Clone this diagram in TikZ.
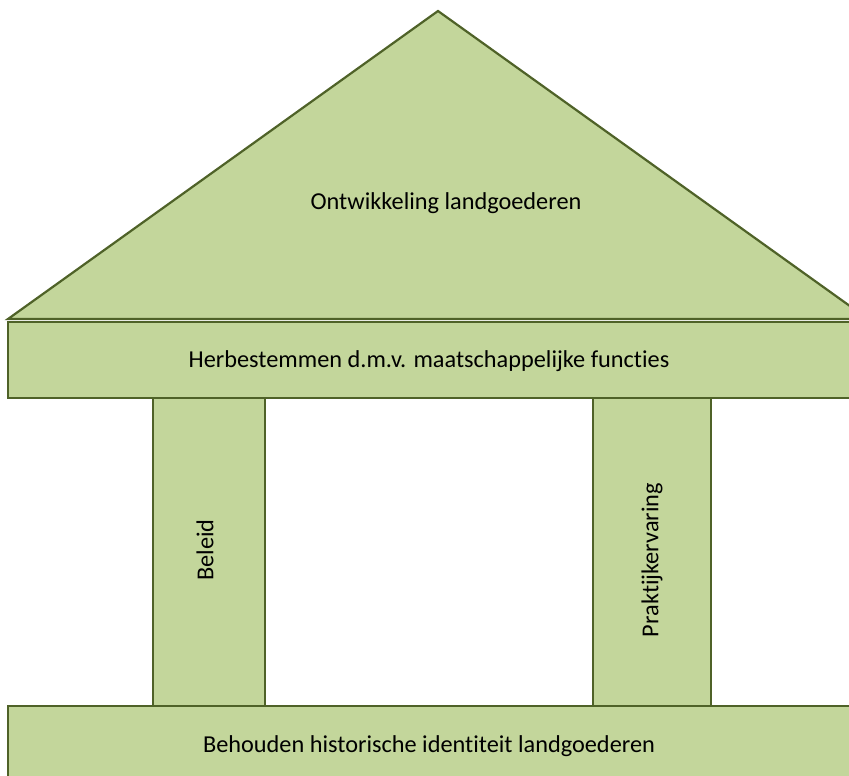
\documentclass[tikz,border=0pt]{standalone}
\usepackage{fontspec}
\setmainfont{Carlito}[Ligatures=NoCommon]
\definecolor{boxfill}{HTML}{C3D69B}
\definecolor{boxline}{HTML}{4F6228}
\tikzset{
  part/.style={fill=boxfill, draw=boxline, line width=2.2pt, line join=miter},
  lbl/.style={font=\fontsize{24.3}{26}\selectfont, text=black, inner sep=0pt},
}
\begin{document}
\begin{tikzpicture}[x=1pt,y=-1pt]
\useasboundingbox (0,0) rectangle (849,776);
\clip (0,0) rectangle (849,776);
% roof
\draw[part] (8,319) -- (438,11) -- (868,319) -- cycle;
% beam
\draw[part] (8,322) rectangle (880,398);
% pillars
\draw[part] (153,398) rectangle (265,706);
\draw[part] (593,398) rectangle (711,706);
% base
\draw[part] (8,706) rectangle (880,800);
% labels
\node[lbl] (roof) at (446,203) {Ontwikkeling landgoederen};
\node[lbl] (beam) at (429,361) {Herbestemmen d.m.v. maatschappelijke functies};
\node[lbl, rotate=90] (left) at (205,550) {Beleid};
\node[lbl, rotate=90] (right) at (652,560) {Praktijkervaring};
\node[lbl] (base) at (429,746) {Behouden historische identiteit landgoederen};
\end{tikzpicture}
\end{document}
